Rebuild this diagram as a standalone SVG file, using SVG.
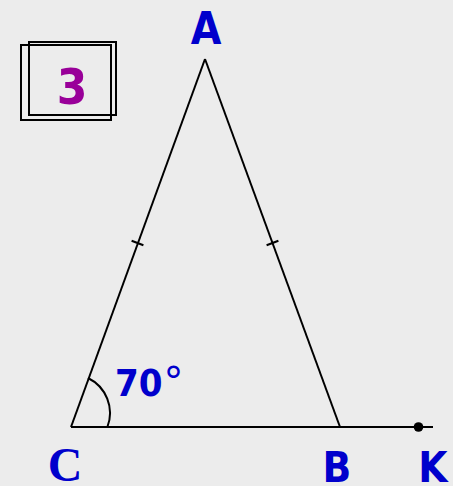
<svg xmlns="http://www.w3.org/2000/svg" width="453" height="486" viewBox="0 0 453 486">
<style>
.ln{stroke:#000;stroke-width:2;fill:none}
.lbl{font-family:"DejaVu Sans Condensed","DejaVu Sans",sans-serif;font-weight:bold;fill:#0000cc}
</style>
<rect width="453" height="486" fill="#ececec"/>
<g id="badge">
<rect x="21" y="45" width="90" height="75" class="ln"/>
<rect x="29" y="42" width="87" height="73" class="ln"/>
<text x="72" y="104" text-anchor="middle" font-family="DejaVu Sans Condensed, DejaVu Sans, sans-serif" font-weight="bold" font-size="49" fill="#990099">3</text>
</g>
<g id="connectors">
<line x1="205" y1="59" x2="71" y2="427" class="ln"/>
<line x1="205" y1="59" x2="340" y2="427" class="ln"/>
<line x1="71" y1="427" x2="433" y2="427" class="ln"/>
<line x1="131.6" y1="240.8" x2="143.4" y2="245.2" class="ln"/>
<line x1="266.6" y1="245.2" x2="278.4" y2="240.8" class="ln"/>
<path d="M88 378 A39 39 0 0 1 107.4 427" class="ln"/>
</g>
<g id="A"><text x="206" y="44" text-anchor="middle" class="lbl" font-size="44">A</text></g>
<g id="C"><text x="65" y="481" text-anchor="middle" font-family="Liberation Serif, serif" font-weight="bold" font-size="48" fill="#0000cc">C</text></g>
<g id="B"><text x="337" y="482" text-anchor="middle" class="lbl" font-size="42">B</text></g>
<g id="K"><circle cx="418.5" cy="427" r="4.8" fill="#000"/><text x="433" y="482" text-anchor="middle" class="lbl" font-size="42">K</text></g>
<g id="angle"><text x="115" y="396" class="lbl" font-size="38">70<tspan font-family="DejaVu Sans, sans-serif" font-weight="normal" font-size="40" dx="1">°</tspan></text></g>
</svg>
